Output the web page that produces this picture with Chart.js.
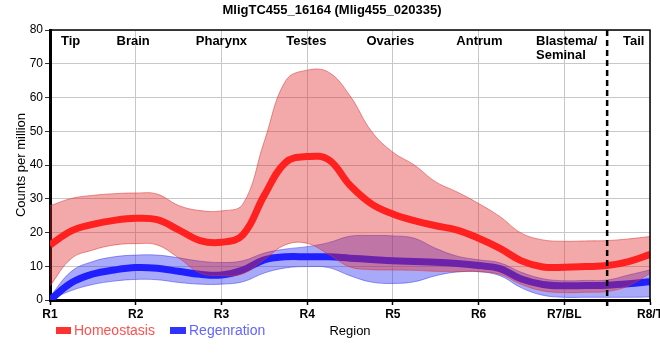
<!DOCTYPE html>
<html><head><meta charset="utf-8">
<script src="https://cdn.jsdelivr.net/npm/chart.js@4"></script>
<style>html,body{margin:0;padding:0;background:#fff}</style>
</head><body>
<canvas id="c" width="660" height="360"></canvas>
<script>
const chartTitle = 'MligTC455_16164 (Mlig455_020335)';
const categories = ['R1','R2','R3','R4','R5','R6','R7/BL','R8/T'];
const regionNames = ['Tip','Brain','Pharynx','Testes','Ovaries','Antrum','Blastema/|Seminal','Tail'];
const regionAt = [1.24, 1.97, 3.0, 3.99, 4.97, 6.01, 6.67, 7.81];
const boundaryAt = 7.5;
const seriesNames = ['Homeostasis','Regenration'];

const sampleX = [1,1.25,1.5,1.75,2,2.25,2.5,2.75,3,3.25,3.5,3.75,4,4.25,4.5,4.75,5,5.25,5.5,5.75,6,6.25,6.5,6.75,7,7.25,7.5,7.75,8];

const homeoMean  = [16.3,20.5,22.4,23.6,24.2,23.8,20.8,17.6,17.1,19.3,31.0,40.8,42.5,41.6,34.0,28.5,25.5,23.5,22.0,20.7,18.3,15.3,11.6,9.8,9.7,9.9,10.2,11.4,13.5];
const homeoUpper = [27.9,30.1,31.0,31.5,31.7,31.4,28.0,26.5,26.4,28.4,47.0,65.0,68.1,67.5,60.5,50.0,43.8,40.0,35.0,32.0,28.6,24.7,19.8,17.8,17.4,17.5,17.6,18.1,18.8];
const homeoLower = [4.2,12.3,14.8,16.3,16.7,16.3,12.5,8.0,7.2,7.8,12.0,16.4,16.8,13.5,9.8,9.0,8.9,8.8,8.5,8.4,8.4,7.6,4.6,2.7,2.2,2.3,2.5,4.2,7.9];

const regenMean  = [0.0,5.1,7.7,8.9,9.6,9.4,8.5,7.6,7.4,8.9,11.9,12.8,12.8,12.8,12.4,12.0,11.6,11.4,11.2,10.8,10.2,9.3,6.2,4.6,4.2,4.3,4.4,4.8,5.4];
const regenUpper = [1.0,8.5,11.4,12.8,13.3,13.3,12.5,11.5,11.1,11.6,13.9,15.1,15.8,17.0,18.9,19.1,19.0,18.3,15.3,13.0,11.9,11.0,8.2,6.3,5.7,5.8,5.9,7.4,8.9];
const regenLower = [0.0,2.8,4.6,5.6,6.1,6.0,5.2,4.7,4.7,5.4,8.0,9.5,9.9,9.6,7.2,5.3,4.9,5.4,7.2,8.3,8.4,7.2,3.6,1.4,0.8,0.8,0.8,0.8,0.9];

const FONT = "'Liberation Sans',Arial,sans-serif";
const pts = arr => arr.map((v,i)=>({x:sampleX[i], y:v}));

const common = {pointRadius:0, tension:0.4, clip:0};
const datasets = [
  Object.assign({label:seriesNames[0], data:pts(homeoMean), borderColor:'rgb(255,32,32)', borderWidth:7, fill:false}, common),
  Object.assign({label:'hu', data:pts(homeoUpper), borderColor:'rgba(215,60,60,0.55)', borderWidth:1, backgroundColor:'rgba(225,40,40,0.4)', fill:'+1'}, common),
  Object.assign({label:'hl', data:pts(homeoLower), borderColor:'rgba(215,60,60,0.55)', borderWidth:1, fill:false}, common),
  Object.assign({label:seriesNames[1], data:pts(regenMean), borderColor:'rgb(32,32,255)', borderWidth:7, fill:false}, common),
  Object.assign({label:'ru', data:pts(regenUpper), borderColor:'rgba(60,60,230,0.5)', borderWidth:1, backgroundColor:'rgba(40,40,240,0.4)', fill:'+1'}, common),
  Object.assign({label:'rl', data:pts(regenLower), borderColor:'rgba(60,60,230,0.5)', borderWidth:1, fill:false}, common)
];

const annot = {
  id:'annot',
  afterDatasetsDraw(chart){
    const {ctx, chartArea:a, scales:{x}} = chart;
    ctx.save();
    const bx = x.getPixelForValue(boundaryAt);
    ctx.strokeStyle = '#000'; ctx.lineWidth = 2.5; ctx.setLineDash([6,4]);
    ctx.beginPath(); ctx.moveTo(bx, a.top); ctx.lineTo(bx, a.bottom + 6); ctx.stroke();
    ctx.setLineDash([]);
    ctx.lineWidth = 1.5;
    ctx.beginPath(); ctx.moveTo(a.left, a.top); ctx.lineTo(a.right, a.top); ctx.lineTo(a.right, a.bottom); ctx.stroke();
    ctx.restore();
  },
  afterDraw(chart){
    const {ctx, chartArea:a, scales:{x}} = chart;
    ctx.save();
    ctx.fillStyle = '#000';
    ctx.textBaseline = 'alphabetic';
    ctx.font = 'bold 13px ' + FONT; ctx.textAlign = 'center';
    ctx.fillText(chartTitle, 332, 14);
    ctx.font = 'bold 13px ' + FONT;
    regionNames.forEach((n,i)=>{
      const px = x.getPixelForValue(regionAt[i]);
      const lines = n.split('|');
      ctx.textAlign = lines.length > 1 ? 'left' : 'center';
      lines.forEach((l,j)=>ctx.fillText(l, px, 45 + j*14));
    });
    ctx.save();
    ctx.translate(21, 165); ctx.rotate(-Math.PI/2);
    ctx.font = '13px ' + FONT; ctx.textAlign='center'; ctx.textBaseline='middle';
    ctx.fillText('Counts per million', 0, 0);
    ctx.restore();
    ctx.font = '13px ' + FONT; ctx.textAlign='center';
    ctx.fillText('Region', (a.left + a.right)/2, 335);
    ctx.textAlign = 'left';
    ctx.font = '14px ' + FONT;
    ctx.fillStyle = 'rgb(255,50,50)'; ctx.fillRect(56, 327, 15, 7);
    ctx.fillStyle = 'rgb(255,80,80)'; ctx.fillText(seriesNames[0], 74, 335);
    ctx.fillStyle = 'rgb(50,50,255)'; ctx.fillRect(170, 327, 16, 7);
    ctx.fillStyle = 'rgb(100,100,255)'; ctx.fillText(seriesNames[1], 189, 335);
    ctx.restore();
  }
};

new Chart(document.getElementById('c'), {
  type:'line',
  data:{datasets},
  options:{
    responsive:false, animation:false, devicePixelRatio:1,
    layout:{padding:{top:30, right:10, left:0, bottom:0}},
    plugins:{legend:{display:false}, tooltip:{enabled:false}, title:{display:false}},
    scales:{
      x:{type:'linear', min:1, max:8,
        afterBuildTicks: s => { s.ticks = categories.map((c,i)=>({value:i+1})); },
        ticks:{callback:v=>categories[Math.round(v)-1], font:{family:FONT, size:12, weight:'bold'}, color:'#000', maxRotation:0, autoSkip:false, padding:2},
        grid:{color:'#c8c8c8', tickLength:5, tickColor:'#000', tickWidth:1.5},
        border:{color:'#000', width:3},
        afterFit: s => { s.height = 60; s.paddingLeft = 0; s.paddingRight = 0; }
      },
      y:{min:0, max:80,
        ticks:{stepSize:10, font:{family:FONT, size:12}, color:'#000', padding:2},
        grid:{color:'#c8c8c8', tickLength:5, tickColor:'#333'},
        border:{color:'#000', width:3},
        afterFit: s => { s.width = 50; s.paddingTop = 0; s.paddingBottom = 0; }
      }
    }
  },
  plugins:[annot]
});
</script>
</body></html>
